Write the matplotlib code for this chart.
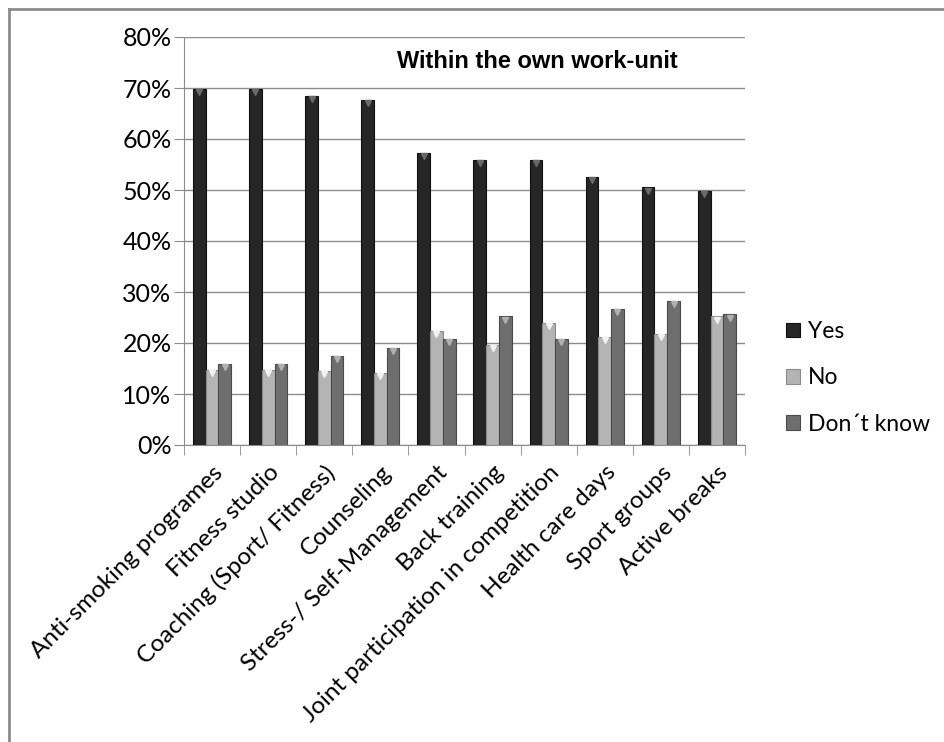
import matplotlib
matplotlib.use("Agg")
import matplotlib.pyplot as plt
import numpy as np
from matplotlib.lines import Line2D
from matplotlib.ticker import FixedLocator, PercentFormatter

# data
categories = ["Anti-smoking programes", "Fitness studio", "Coaching (Sport/ Fitness)",
              "Counseling", "Stress-/ Self-Management", "Back training",
              "Joint participation in competition", "Health care days",
              "Sport groups", "Active breaks"]
yes = [69.8, 69.8, 68.4, 67.6, 57.3, 55.8, 55.8, 52.6, 50.5, 49.8]
no = [14.7, 14.7, 14.5, 14.1, 22.4, 19.6, 23.9, 21.1, 21.7, 25.2]
dont_know = [15.8, 15.8, 17.5, 19.0, 20.7, 25.2, 20.7, 26.6, 28.2, 25.6]
series_names = ["Yes", "No", "Don\u00b4t know"]

plt.rcParams['font.family'] = ['Lato', 'DejaVu Sans']

fig = plt.figure(figsize=(9.44, 7.42), dpi=100)
ax = fig.add_axes([184/944, 1-445/742, 561/944, 408/742])

x = np.arange(len(categories))
w = 0.227
cols = ['#262626', '#b4b4b4', '#6e6e6e']
edges = ['#111111', '#8a8a8a', '#4a4a4a']
tri = ['#6a6a6a', '#f2f2f2', '#b0b0b0']
handles = []
for i, vals in enumerate([yes, no, dont_know]):
    pos = x + (i-1)*w
    b = ax.bar(pos, vals, w, color=cols[i], edgecolor=edges[i], linewidth=0.8,
               label=series_names[i], zorder=3)
    ax.plot(pos, np.array(vals)-0.6, linestyle='none', marker='v', markersize=5,
            color=tri[i], zorder=4)
    handles.append(b)

ax.set_xlim(-0.5, len(categories)-0.5)
ax.set_ylim(0, 80)
ax.set_yticks(np.arange(0, 81, 10))
ax.yaxis.set_major_formatter(PercentFormatter(decimals=0))
ax.grid(axis='y', color='#8c8c8c', linewidth=1, zorder=0)
ax.set_axisbelow(True)

ax.set_xticks(x)
ax.set_xticklabels(categories, rotation=45, ha='right', rotation_mode='anchor', fontsize=17.5)
ax.tick_params(axis='x', which='major', length=0, pad=12)
ax.xaxis.set_minor_locator(FixedLocator(np.arange(-0.5, len(categories), 1)))
ax.tick_params(axis='x', which='minor', length=7, color='#8c8c8c')
ax.tick_params(axis='y', length=7, color='#8c8c8c', labelsize=18, pad=2)

for s in ['top', 'right']:
    ax.spines[s].set_visible(False)
for s in ['left', 'bottom']:
    ax.spines[s].set_color('#8c8c8c')

ax.text(0.63, 0.94, "Within the own work-unit", transform=ax.transAxes,
        ha='center', va='center', fontsize=17, fontweight='bold',
        family='Liberation Sans')

fig.legend(handles=handles, labels=series_names, loc='center left',
           bbox_to_anchor=(786/944, 1-378/742), frameon=False, fontsize=16.5,
           borderpad=0, borderaxespad=0,
           handlelength=0.6, handleheight=0.6, handletextpad=0.35, labelspacing=1.1)

# outer chart border (only top and left visible)
fig.add_artist(Line2D([9/944, 9/944], [0, 1-9/742], color='#8c8c8c', linewidth=2))
fig.add_artist(Line2D([9/944, 1], [1-9/742, 1-9/742], color='#8c8c8c', linewidth=2))

fig.savefig("out.png", dpi=100)
